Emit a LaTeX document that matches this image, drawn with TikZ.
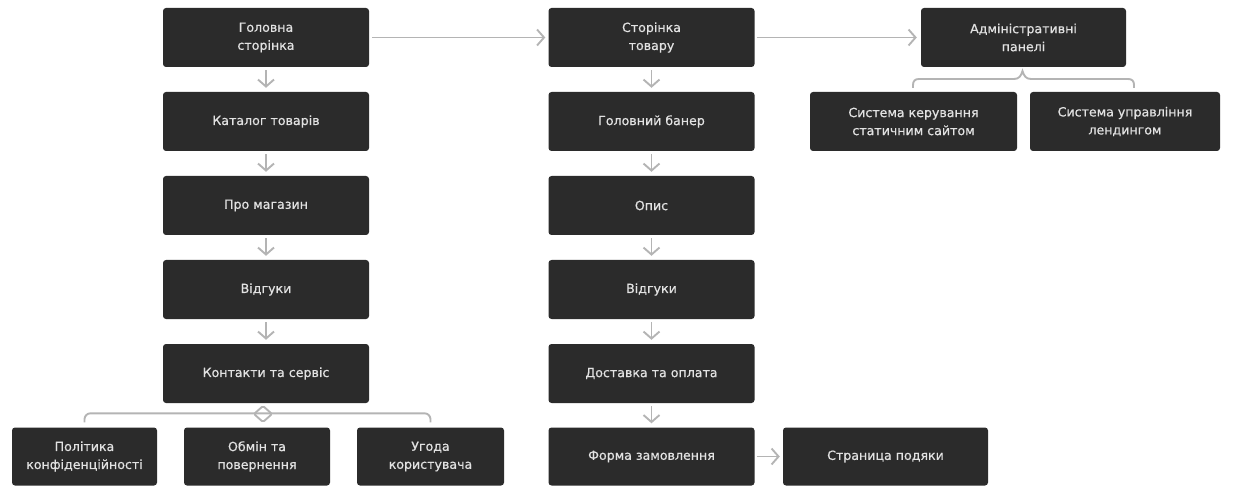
\documentclass[tikz,border=0pt]{standalone}
\usepackage{fontspec}
\setmainfont{DejaVu Sans}
\newfontfamily\cardfont{DejaVu Sans}[FakeBold=0.6]
\usetikzlibrary{arrows.meta}
\definecolor{boxfill}{HTML}{2B2B2B}
\definecolor{boxtext}{HTML}{E2E2E2}
\definecolor{linkgray}{HTML}{B4B4B4}
\begin{document}
\begin{tikzpicture}[x=1pt,y=-1pt,
  card/.style={fill=boxfill, rounded corners=3pt, minimum width=206pt,
    minimum height=59pt, text=boxtext, align=center, inner sep=0pt,
    font=\cardfont\fontsize{12.6}{18}\selectfont},
  link/.style={draw=linkgray, line width=1.9pt,
    -{Straight Barb[length=7pt,width=16pt,line width=1.9pt]}},
  brace/.style={draw=linkgray, line width=1.9pt, rounded corners=6pt}]
\useasboundingbox (0,0) rectangle (1239,486);

% left column
\node[card] (home)     at (266,37.5)  {Головна\\сторінка};
\node[card] (catalog)  at (266,121.5) {Каталог товарів};
\node[card] (about)    at (266,205.5) {Про магазин};
\node[card] (reviewsA) at (266,289.5) {Відгуки};
\node[card] (contacts) at (266,373.5) {Контакти та сервіс};
\node[card, minimum width=145pt, minimum height=58pt] (privacy)   at (84.5,456.5)  {Політика\\конфіденційності};
\node[card, minimum width=146pt, minimum height=58pt] (exchange)  at (257,456.5)   {Обмін та\\повернення};
\node[card, minimum width=147pt, minimum height=58pt] (agreement) at (430.5,456.5) {Угода\\користувача};

% middle column
\node[card] (product)  at (651.5,37.5)  {Сторінка\\товару};
\node[card] (banner)   at (651.5,121.5) {Головний банер};
\node[card] (desc)     at (651.5,205.5) {Опис};
\node[card] (reviewsB) at (651.5,289.5) {Відгуки};
\node[card] (delivery) at (651.5,373.5) {Доставка та оплата};
\node[card, minimum height=58pt] (order)  at (651.5,456.5) {Форма замовлення};
\node[card, minimum width=205pt, minimum height=58pt] (thanks) at (885.5,456.5) {Страница подяки};

% admin branch
\node[card, minimum width=205pt] (admin) at (1023.5,37.5) {Адміністративні\\панелі};
\node[card, minimum width=207pt] (cms)     at (913.5,121.5) {Система керування\\статичним сайтом};
\node[card, minimum width=190pt] (landing) at (1125,121.5)  {Система управління\\лендингом};

% vertical flows
\foreach \a/\b in {home/catalog, catalog/about, about/reviewsA, reviewsA/contacts,
                   product/banner, banner/desc, desc/reviewsB, reviewsB/delivery, delivery/order}
  \draw[link, shorten <=3pt, shorten >=4pt] (\a) -- (\b);

% horizontal flows
\draw[link, shorten <=3pt, shorten >=3pt] (home) -- (product);
\draw[link, shorten <=2pt, shorten >=4pt] (product) -- (admin);
\draw[link, shorten <=2pt, shorten >=3pt] (order) -- (thanks);

% bracket under the contacts card
\draw[brace] ([yshift=5pt]privacy.north) -- ++(0,-9) -| ([yshift=5pt]agreement.north);
\draw[draw=linkgray, line width=1.9pt, rounded corners=1.5pt]
  (254,414) -- (263,406) -- (272,414) -- (263,422) -- cycle;

% bracket under the admin card
\draw[draw=linkgray, line width=1.9pt]
  (913,88) -- (913,85) .. controls (913,81) and (915,79) .. (919,79)
  -- (1014,79) .. controls (1019,79) and (1021,76) .. (1022.5,71)
  .. controls (1024,76) and (1026,79) .. (1031,79)
  -- (1128,79) .. controls (1132,79) and (1134,81) .. (1134,85) -- (1134,88);
\end{tikzpicture}
\end{document}
